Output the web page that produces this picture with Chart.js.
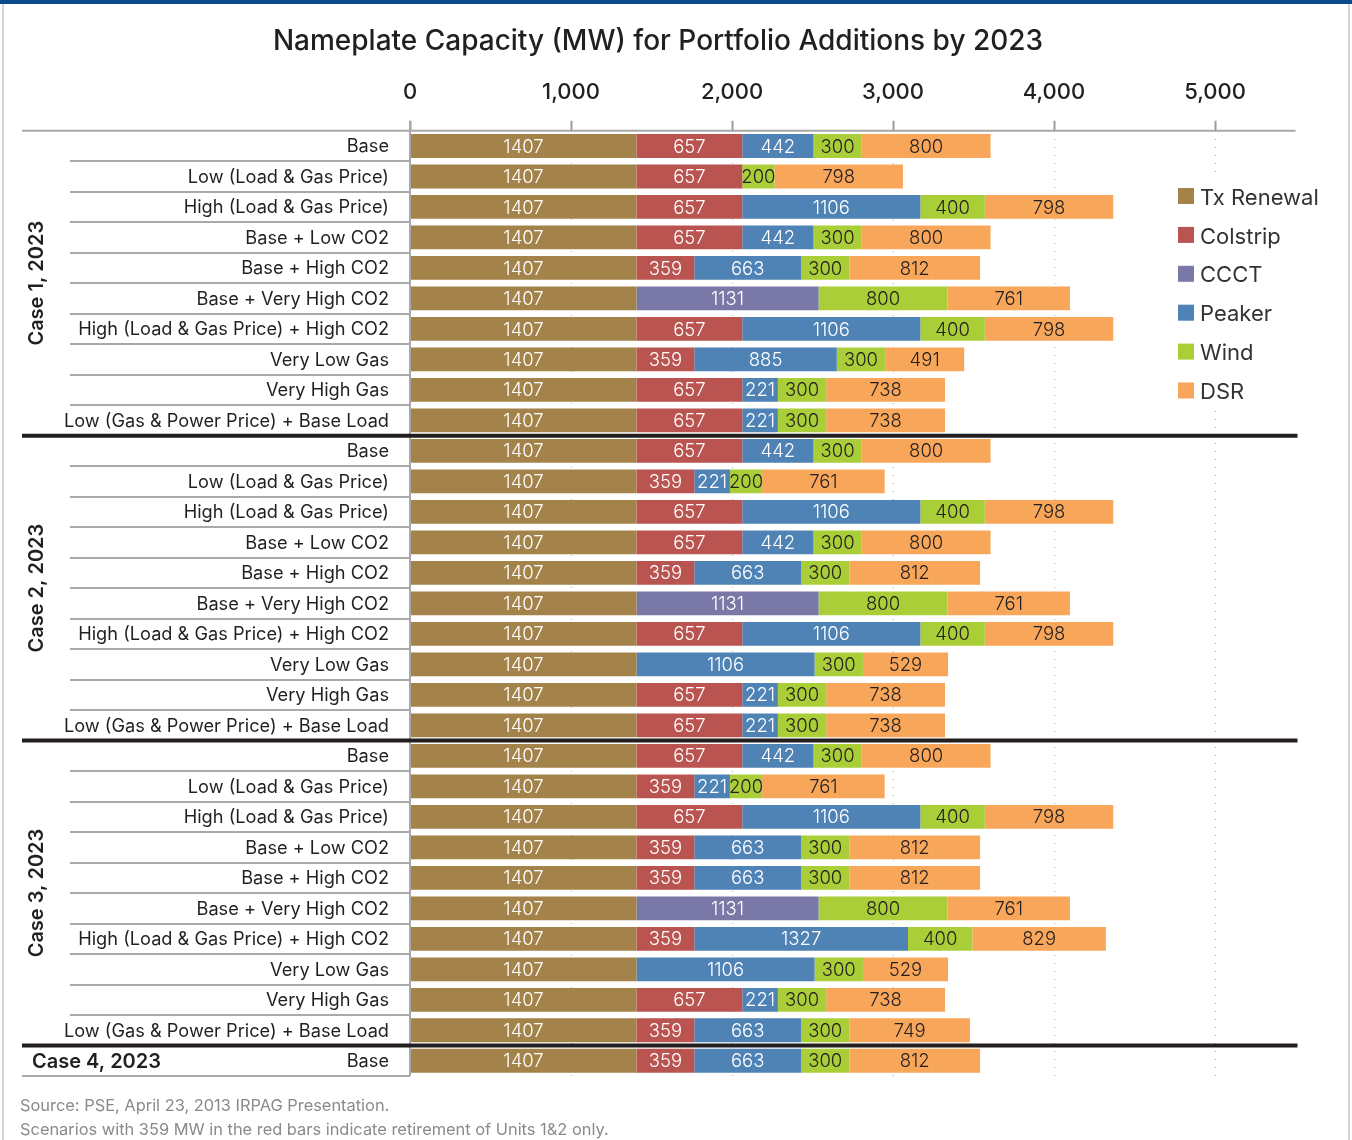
<!DOCTYPE html>
<html><head><meta charset="utf-8">
<script src="https://cdn.jsdelivr.net/npm/chart.js@4/dist/chart.umd.min.js"></script>
<style>html,body{margin:0;padding:0;background:#fff;} #wrap{position:relative;width:1352px;height:1140px;}</style>
</head><body><div id="wrap"><canvas id="c" width="1352" height="1140"></canvas></div>
<script>
const categories = [
 'Base','Low (Load & Gas Price)','High (Load & Gas Price)','Base + Low CO2','Base + High CO2','Base + Very High CO2','High (Load & Gas Price) + High CO2','Very Low Gas','Very High Gas','Low (Gas & Power Price) + Base Load',
 'Base','Low (Load & Gas Price)','High (Load & Gas Price)','Base + Low CO2','Base + High CO2','Base + Very High CO2','High (Load & Gas Price) + High CO2','Very Low Gas','Very High Gas','Low (Gas & Power Price) + Base Load',
 'Base','Low (Load & Gas Price)','High (Load & Gas Price)','Base + Low CO2','Base + High CO2','Base + Very High CO2','High (Load & Gas Price) + High CO2','Very Low Gas','Very High Gas','Low (Gas & Power Price) + Base Load',
 'Base'
];
const groupNames = ['Case 1, 2023','Case 2, 2023','Case 3, 2023','Case 4, 2023'];
const groupStarts = [0,10,20,30];
const groupEnds = [9,19,29,30];

const seriesNames = ['Tx Renewal','Colstrip','CCCT','Peaker','Wind','DSR'];
const txRenewal = [1407,1407,1407,1407,1407,1407,1407,1407,1407,1407, 1407,1407,1407,1407,1407,1407,1407,1407,1407,1407, 1407,1407,1407,1407,1407,1407,1407,1407,1407,1407, 1407];
const colstrip  = [657,657,657,657,359,null,657,359,657,657, 657,359,657,657,359,null,657,null,657,657, 657,359,657,359,359,null,359,null,657,359, 359];
const ccct      = [null,null,null,null,null,1131,null,null,null,null, null,null,null,null,null,1131,null,null,null,null, null,null,null,null,null,1131,null,null,null,null, null];
const peaker    = [442,null,1106,442,663,null,1106,885,221,221, 442,221,1106,442,663,null,1106,1106,221,221, 442,221,1106,663,663,null,1327,1106,221,663, 663];
const wind      = [300,200,400,300,300,800,400,300,300,300, 300,200,400,300,300,800,400,300,300,300, 300,200,400,300,300,800,400,300,300,300, 300];
const dsr       = [800,798,798,800,812,761,798,491,738,738, 800,761,798,800,812,761,798,529,738,738, 800,761,798,812,812,761,829,529,738,749, 812];
const tickValues = [0,1000,2000,3000,4000,5000];

const colors = ['#A3834A','#BA5450','#7A78A6','#4F82B5','#A9CE38','#F8A65A'];
const labelColors = ['#ffffff','#ffffff','#ffffff','#ffffff','#231f20','#231f20'];
const FONT = 'Inter, "Noto Sans", sans-serif';
const TXT = '#231f20';

const allSeries = [txRenewal, colstrip, ccct, peaker, wind, dsr];
const datasets = allSeries.map((d,i)=>({
  label: seriesNames[i], data: d, backgroundColor: colors[i], borderWidth: 0,
  categoryPercentage: 1.0, barPercentage: 0.78, stack: 's'
}));

const deco = {
  id: 'deco',
  beforeDraw(chart){
    const ctx = chart.ctx;
    ctx.save();
    ctx.fillStyle = '#fff'; ctx.fillRect(0,0,chart.width,chart.height);
    ctx.fillStyle = '#0b4a8b'; ctx.fillRect(0,0,chart.width,4);
    ctx.fillStyle = '#d6d6d6'; ctx.fillRect(2,4,2,chart.height-4); ctx.fillRect(1348,4,2,chart.height-4);
    ctx.fillStyle = TXT; ctx.textAlign='center'; ctx.textBaseline='middle';
    ctx.font = '500 28px ' + FONT;
    ctx.fillText('Nameplate Capacity (MW) for Portfolio Additions by 2023', 658, 42);
    ctx.fillStyle = '#8a8a8a'; ctx.textAlign='left'; ctx.font = '16.4px ' + FONT;
    ctx.fillText('Source: PSE, April 23, 2013 IRPAG Presentation.', 20, 1106);
    ctx.fillText('Scenarios with 359 MW in the red bars indicate retirement of Units 1&2 only.', 20, 1130);
    ctx.restore();
  },
  afterDatasetsDraw(chart){
    const ctx = chart.ctx, ca = chart.chartArea;
    const y = chart.scales.y, x = chart.scales.x;
    ctx.save();
    // value labels
    ctx.font = '300 18.5px ' + FONT; ctx.textAlign='center'; ctx.textBaseline='middle';
    chart.data.datasets.forEach((ds,di)=>{
      const meta = chart.getDatasetMeta(di);
      meta.data.forEach((el,i)=>{
        const v = ds.data[i]; if (v==null) return;
        const p = el.getProps(['x','base','y'], true);
        ctx.fillStyle = labelColors[di];
        ctx.fillText(String(v), (p.x+p.base)/2, p.y+1);
      });
    });
    const pitch = y.getPixelForValue(1) - y.getPixelForValue(0);
    const x0 = x.getPixelForValue(0);
    // row separators in label area
    ctx.strokeStyle = '#a9a9a9'; ctx.lineWidth = 2;
    for (let i=0;i<categories.length-1;i++){
      if (groupEnds.includes(i)) continue;
      const yy = Math.round(y.getPixelForValue(i)+pitch/2);
      ctx.beginPath(); ctx.moveTo(70,yy); ctx.lineTo(x0,yy); ctx.stroke();
    }
    // top axis line & bottom line
    ctx.beginPath(); ctx.moveTo(22,ca.top); ctx.lineTo(ca.right,ca.top); ctx.stroke();
    ctx.beginPath(); ctx.moveTo(22,ca.bottom); ctx.lineTo(x0,ca.bottom); ctx.stroke();
    // left solid line
    ctx.beginPath(); ctx.moveTo(x0,ca.top-10); ctx.lineTo(x0,ca.bottom); ctx.stroke();
    // group separators
    ctx.strokeStyle = '#231f20'; ctx.lineWidth = 4;
    for (let g=0; g<groupEnds.length-1; g++){
      const yy = y.getPixelForValue(groupEnds[g])+pitch/2;
      ctx.beginPath(); ctx.moveTo(22,yy); ctx.lineTo(ca.right+2,yy); ctx.stroke();
    }
    // category labels
    ctx.fillStyle = TXT; ctx.textAlign='right'; ctx.font = '18.2px ' + FONT;
    categories.forEach((c,i)=>{ ctx.fillText(c, 389, y.getPixelForValue(i)+1); });
    // group labels
    ctx.font = '600 20px ' + FONT;
    for (let g=0; g<groupNames.length; g++){
      const yc = (y.getPixelForValue(groupStarts[g]) + y.getPixelForValue(groupEnds[g]))/2;
      if (groupStarts[g]===groupEnds[g]) {
        ctx.textAlign='left'; ctx.fillText(groupNames[g], 32, yc+1);
      } else {
        ctx.save(); ctx.translate(37, yc); ctx.rotate(-Math.PI/2);
        ctx.textAlign='center'; ctx.fillText(groupNames[g], 0, 0); ctx.restore();
      }
    }
    // legend
    ctx.fillStyle = '#fff'; ctx.fillRect(1165,178,175,232);
    ctx.font = '22px ' + FONT; ctx.textAlign='left';
    chart.data.datasets.forEach((ds,i)=>{
      const ly = 197 + i*38.9;
      ctx.fillStyle = ds.backgroundColor; ctx.fillRect(1178, ly-9, 16, 16);
      ctx.fillStyle = '#333'; ctx.fillText(ds.label, 1200, ly+1);
    });
    ctx.restore();
  }
};

new Chart(document.getElementById('c'), {
  type: 'bar',
  data: { labels: categories, datasets },
  options: {
    indexAxis: 'y', responsive: false, animation: false,
    layout: { padding: { left: 410, right: 56.5, top: 79.75, bottom: 64 } },
    plugins: { legend: { display: false }, tooltip: { enabled: false } },
    scales: {
      x: {
        type: 'linear', position: 'top', min: 0, max: 5500, stacked: true,
        afterBuildTicks(ax){ ax.ticks = tickValues.map(v=>({value:v})); },
        afterFit(ax){ ax.height = 51; },
        ticks: { stepSize: 1000, padding: 15, color: TXT, font: { family: FONT, size: 22, weight: '500' },
                 callback: v => v.toLocaleString('en-US') },
        grid: { color: '#a8a8a8', lineWidth: 1, tickLength: 10, tickColor: '#9a9a9a', tickWidth: 2,
                tickBorderDash: [], borderDash: [1,7] },
        border: { display: false, dash: [1,7] }
      },
      y: { stacked: true, display: false }
    }
  },
  plugins: [deco]
});
</script></body></html>
